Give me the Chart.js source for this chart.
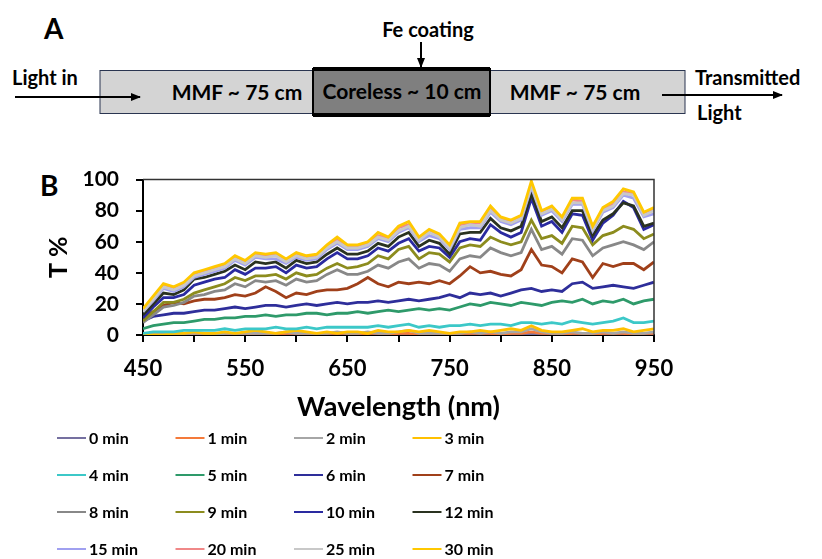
<!DOCTYPE html>
<html>
<head>
<meta charset="utf-8">
<script src="https://cdn.jsdelivr.net/npm/chart.js@4.4.1/dist/chart.umd.min.js"></script>
<style>
  body { margin: 0; background: #fff; width: 822px; height: 559px; overflow: hidden; position: relative; font-family: Lato, sans-serif; }
  #partA { position: absolute; left: 0; top: 0; }
  #wrap { position: absolute; left: 0; top: 150px; width: 822px; height: 409px; }
  .lbl { position: absolute; font-weight: bold; font-size: 28px; color: #000; }
</style>
</head>
<body>
<svg id="partA" width="822" height="150" viewBox="0 0 822 150">
  <defs>
    <marker id="ah" markerWidth="10" markerHeight="8" refX="9" refY="4" orient="auto" markerUnits="userSpaceOnUse">
      <path d="M0,0 L10,4 L0,8 z" fill="#000"/>
    </marker>
  </defs>
  <text x="44" y="39" font-family="Lato" font-weight="bold" font-size="28">A</text>
  <rect x="100" y="70.5" width="213" height="43" fill="#d4d4d4" stroke="#2a3550" stroke-width="1"/>
  <rect x="490" y="70.5" width="195" height="43" fill="#d4d4d4" stroke="#2a3550" stroke-width="1"/>
  <rect x="313" y="69" width="177" height="46" fill="#7f7f7f" stroke="#000" stroke-width="2"/>
  <rect x="313" y="67" width="177" height="4" fill="#000"/>
  <rect x="313" y="113" width="177" height="4" fill="#000"/>
  <text x="428" y="37" text-anchor="middle" font-family="Lato" font-weight="bold" font-size="20">Fe coating</text>
  <line x1="421" y1="42" x2="421" y2="67" stroke="#000" stroke-width="2" marker-end="url(#ah)"/>
  <text x="12" y="85" font-family="Lato" font-weight="bold" font-size="20">Light in</text>
  <line x1="15" y1="97" x2="140" y2="97" stroke="#000" stroke-width="2" marker-end="url(#ah)"/>
  <text x="237" y="100" text-anchor="middle" font-family="Lato" font-weight="bold" font-size="21">MMF ~ 75 cm</text>
  <text x="402" y="99" text-anchor="middle" font-family="Lato" font-weight="bold" font-size="21">Coreless ~ 10 cm</text>
  <text x="575" y="100" text-anchor="middle" font-family="Lato" font-weight="bold" font-size="21">MMF ~ 75 cm</text>
  <line x1="662" y1="95" x2="782" y2="95" stroke="#000" stroke-width="2" marker-end="url(#ah)"/>
  <text x="695" y="85" font-family="Lato" font-weight="bold" font-size="20">Transmitted</text>
  <text x="697" y="120" font-family="Lato" font-weight="bold" font-size="20">Light</text>
</svg>
<div class="lbl" style="left:40px; top:168px;">B</div>
<div id="wrap"><canvas id="myChart" width="822" height="409"></canvas></div>
<script>
// wavelength (nm)
var wl = [450,460,470,480,490,500,510,520,530,540,550,560,570,580,590,600,610,620,630,640,
  650,660,670,680,690,700,710,720,730,740,750,760,770,780,790,800,810,820,830,840,
  850,860,870,880,890,900,910,920,930,940,950];

var names = ['0 min','1 min','2 min','3 min','4 min','5 min','6 min','7 min',
  '8 min','9 min','10 min','12 min','15 min','20 min','25 min','30 min'];
var colors = ['#7570a0','#f47a3a','#a6a6a6','#ffc000','#3cc8c8','#2e9a6a','#2e2e9a','#a0401a',
  '#888888','#8c8c1e','#2a2aa0','#2a3220','#a0a0f0','#f08888','#c8c8c8','#ffc800'];

// T % per time
var t0 = [0,0,0,0,0,0,0,0,0,0, 0,0,0,0,0,0,0,0,0,0, 0,0,0,0,0,0,0,0,0,0, 0,0,0,0,0,0,0,0,1,0, 0,0,0,0,0,0,0,0,0,0,0];
var t1 = [0,0,0,0,0,0,1,0,0,1, 0,1,1,0,1,1,0,1,1,1, 1,0,1,1,0,1,1,0,1,1, 0,1,1,1,1,0,1,1,2,1, 1,0,1,1,0,1,1,1,0,1,1];
var t2 = [0,0,0,0,1,1,1,0,1,1, 1,1,1,1,2,1,1,1,1,2, 1,1,2,1,1,2,3,1,1,1, 1,1,2,1,2,1,2,2,4,2, 1,1,2,1,1,2,1,2,1,1,2];
var t3 = [0,0,0,1,1,2,1,1,2,1, 2,3,2,1,2,3,2,1,2,1, 2,2,1,3,2,2,3,2,3,2, 1,2,2,3,2,3,4,3,6,3, 2,2,3,4,2,3,3,4,2,3,4];
var t4 = [1,2,2,2,3,3,3,3,4,3, 4,4,4,5,4,4,5,4,5,5, 5,5,5,6,5,6,7,5,6,5, 6,6,7,6,7,7,6,8,8,7, 8,7,9,8,7,8,9,11,8,8,9];
var t5 = [4,6,7,8,8,9,10,10,11,11, 12,12,13,12,13,13,14,14,13,14, 14,15,14,15,16,15,16,17,16,17, 16,18,20,19,21,20,19,21,20,19, 21,22,21,23,20,22,21,23,20,22,23];
var t6 = [9,12,13,14,14,15,16,16,17,18, 17,18,19,19,18,19,20,19,20,21, 20,21,21,22,21,22,23,22,23,24, 26,24,27,26,27,25,27,29,30,28, 29,28,33,34,30,31,32,31,30,32,34];
var t7 = [11,15,19,21,20,22,23,23,24,26, 25,27,31,28,24,27,26,28,29,29, 30,33,37,33,31,34,33,34,33,35, 33,38,44,40,41,39,38,42,55,45, 44,40,49,47,37,46,44,46,46,42,47];
var t8 = [8,13,18,19,21,25,26,28,29,33, 31,35,34,35,32,36,34,35,39,42, 39,39,41,45,43,47,49,43,46,45, 41,49,51,50,56,53,51,53,68,55, 57,52,62,61,51,56,58,60,58,55,60];
var t9 = [9,15,21,21,23,27,29,31,33,37, 35,38,38,39,36,40,38,39,43,46, 43,44,46,51,49,55,57,49,53,52, 47,56,58,57,63,60,58,60,74,62, 64,59,70,69,58,64,66,70,68,62,65];
var t10 = [11,18,24,24,26,32,34,36,37,42, 39,43,43,44,40,45,43,44,49,53, 49,49,51,56,54,59,62,54,57,56, 50,60,62,61,71,66,63,66,88,70, 73,66,78,77,61,72,77,86,82,68,71];
var t12 = [13,20,27,26,29,36,37,39,41,45, 42,47,46,47,43,48,46,47,52,56, 52,52,54,59,57,63,66,57,61,59, 52,65,66,66,75,69,67,70,91,73, 76,69,80,80,64,74,78,85,83,70,72];
var t15 = [15,22,30,28,31,37,39,41,43,48, 45,50,49,49,46,50,48,49,55,59, 55,55,57,62,60,66,69,60,64,62, 55,68,69,69,79,73,71,74,95,77, 80,73,84,84,67,79,82,90,88,76,78];
var t20 = [16,24,32,30,33,39,41,43,45,50, 47,52,51,52,48,52,50,51,57,61, 57,57,59,64,62,69,71,62,67,64, 57,71,72,72,81,75,73,76,97,79, 82,75,87,86,69,81,84,92,91,78,81];
var t25 = [15,23,31,29,32,38,40,42,44,49, 46,51,50,51,47,51,49,50,56,60, 56,56,58,63,61,67,70,61,66,63, 56,69,71,70,80,74,72,75,96,78, 81,74,85,85,68,80,83,91,90,77,80];
var t30 = [17,25,33,31,34,40,42,44,46,51, 48,53,52,53,49,53,51,52,58,63, 58,58,60,66,63,70,73,63,68,65, 58,72,73,73,83,76,74,77,99,80, 83,76,88,88,70,82,86,94,92,79,82];

var series = [t0,t1,t2,t3,t4,t5,t6,t7,t8,t9,t10,t12,t15,t20,t25,t30];

var datasets = series.map(function (s, i) {
  return {
    label: names[i],
    data: s.map(function (v, j) { return {x: wl[j], y: v}; }),
    borderColor: colors[i],
    backgroundColor: colors[i],
    borderWidth: 2.8,
    pointRadius: 0,
    tension: 0,
    order: series.length - 1 - i
  };
});

// top/right frame of the plot
var framePlugin = {
  id: 'frame',
  afterDatasetsDraw: function (chart) {
    var a = chart.chartArea, ctx = chart.ctx;
    ctx.save();
    ctx.strokeStyle = '#333';
    ctx.lineWidth = 1.5;
    ctx.beginPath();
    ctx.moveTo(a.left, a.top);
    ctx.lineTo(a.right, a.top);
    ctx.lineTo(a.right, a.bottom);
    ctx.stroke();
    ctx.restore();
  }
};

// 4-column legend under the plot
var legendPlugin = {
  id: 'gridLegend',
  afterDraw: function (chart) {
    var ctx = chart.ctx;
    var colX = [57, 175.5, 294, 412.5];
    var rowY = [288, 325, 362, 399];
    ctx.save();
    ctx.font = 'bold 16px Lato';
    ctx.textBaseline = 'middle';
    ctx.fillStyle = '#000';
    chart.data.datasets.forEach(function (ds, i) {
      var x = colX[i % 4], y = rowY[Math.floor(i / 4)];
      ctx.strokeStyle = ds.borderColor;
      ctx.lineWidth = 2;
      ctx.beginPath();
      ctx.moveTo(x, y);
      ctx.lineTo(x + 29, y);
      ctx.stroke();
      ctx.fillText(ds.label, x + 32, y + 1);
    });
    ctx.restore();
  }
};

const ctx = document.getElementById('myChart');

new Chart(ctx, {
  type: 'line',
  data: { datasets: datasets },
  options: {
    responsive: false,
    animation: false,
    layout: { padding: { top: 21, right: 168, bottom: 134, left: 0 } },
    plugins: { legend: { display: false }, tooltip: { enabled: false } },
    scales: {
      x: {
        type: 'linear',
        min: 450,
        max: 950,
        afterFit: function (s) { s.height = 90; },
        ticks: {
          stepSize: 50,
          autoSkip: false,
          maxRotation: 0,
          padding: 14,
          color: '#000',
          font: { family: 'Lato', weight: 'bold', size: 22 },
          callback: function (v) { return (v - 450) % 100 === 0 ? v : ''; }
        },
        grid: { drawOnChartArea: false, drawTicks: true, tickLength: 7, color: '#000', lineWidth: 2 },
        border: { color: '#000', width: 2 },
        title: {
          display: true,
          text: 'Wavelength (nm)',
          color: '#000',
          font: { family: 'Lato', weight: 'bold', size: 27 },
          padding: { top: 0, bottom: 2 }
        }
      },
      y: {
        min: 0,
        max: 100,
        afterFit: function (s) { s.width = 143; },
        ticks: {
          stepSize: 20,
          padding: 17,
          color: '#000',
          font: { family: 'Lato', weight: 'bold', size: 21 }
        },
        grid: { drawOnChartArea: false, drawTicks: true, tickLength: 7, color: '#000', lineWidth: 2 },
        border: { color: '#000', width: 2 },
        title: {
          display: true,
          text: 'T %',
          color: '#000',
          font: { family: 'Lato', weight: 'bold', size: 25 },
          padding: { top: 44, bottom: 0 }
        }
      }
    }
  },
  plugins: [framePlugin, legendPlugin]
});
</script>
</body>
</html>
